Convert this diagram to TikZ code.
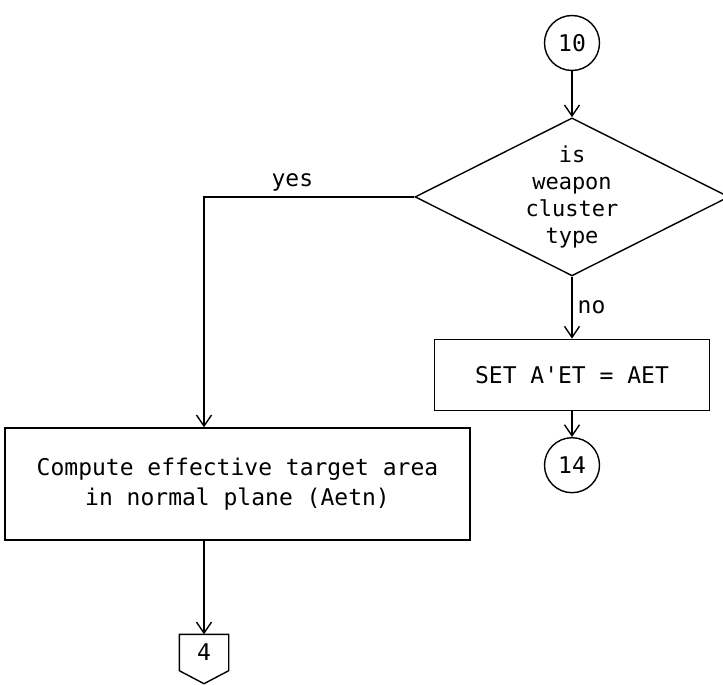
\documentclass[tikz,border=0pt]{standalone}
\usepackage{fontspec}
\newfontfamily\flowtt{DejaVu Sans Mono}
\usetikzlibrary{positioning,arrows.meta,shapes.geometric}

\begin{document}
\begin{tikzpicture}[x=1pt,y=1pt,line width=1.4pt,>={Straight Barb[length=11pt,width=15pt]},
  node distance=46pt,
  txt/.style={font=\flowtt\fontsize{23}{30}\selectfont},
  conn/.style={draw,circle,minimum size=55pt,inner sep=0pt,txt},
  proc/.style={draw,rectangle,align=center,inner sep=0pt,txt},
  dec/.style={draw,diamond,aspect=2,inner sep=0pt,align=center,minimum width=314pt,minimum height=158pt,
    font=\flowtt\fontsize{22}{27}\selectfont},
  lbl/.style={txt,inner sep=5pt}]
  \useasboundingbox (0,0) rectangle (723,-685);
  % right column: connector 10, the test, the no branch
  \node[conn] (c10) at (572,-43) {10};
  \node[dec,below=46pt of c10] (clus) {is\\weapon\\cluster\\type};
  \node[proc,below=62pt of clus,minimum width=275pt,minimum height=71pt] (set) {SET A\char39 ET = AET};
  \node[conn,below=26pt of set] (c14) {14};
  % left column: the yes branch
  \node[proc,minimum width=465pt,minimum height=112pt] (comp) at (237.5,-484)
    {Compute effective target area\\in normal plane (Aetn)};
  \node[txt,minimum width=48pt,minimum height=35pt,inner sep=0pt] (p4) at (204,-652.5) {4};
  \draw (p4.north west) -- (p4.north east) -- (p4.south east) -- ([yshift=-13pt]p4.south)
    -- (p4.south west) -- cycle;
  \draw[->] (c10) -- (clus);
  \draw[->] (clus.west) -| node[lbl,above,pos=0.29]{yes} (comp.north -| p4.north);
  \draw[->] (clus) -- node[lbl,right]{no} (set);
  \draw[->] (set) -- (c14);
  \draw[->] (comp.south -| p4.north) -- (p4);
\end{tikzpicture}
\end{document}
